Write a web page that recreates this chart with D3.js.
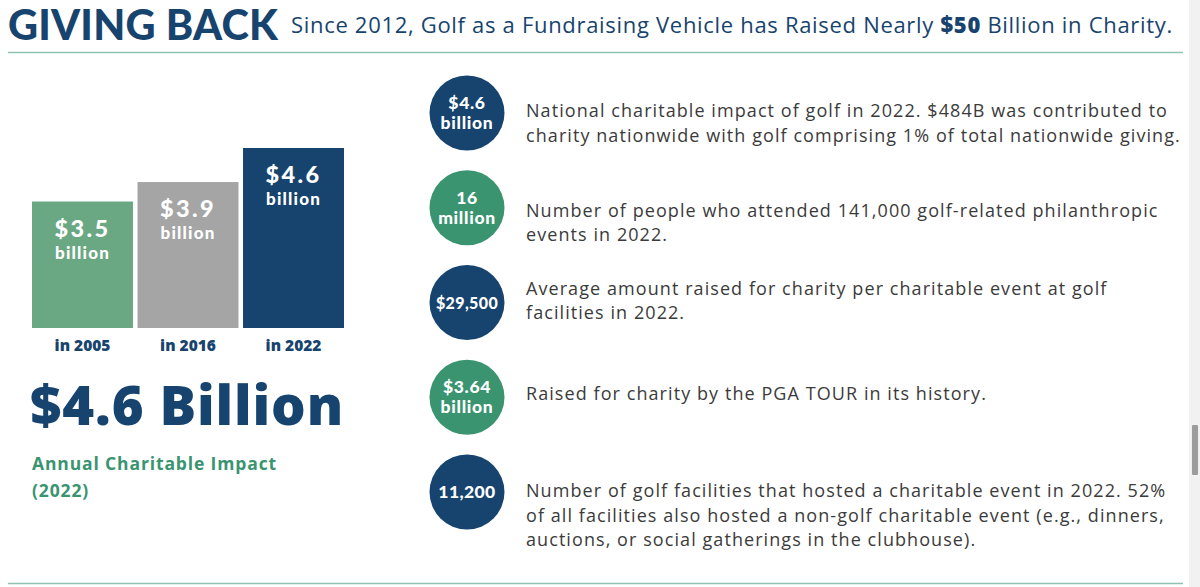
<!DOCTYPE html>
<html>
<head>
<meta charset="utf-8">
<script src="https://cdn.jsdelivr.net/npm/d3@7"></script>
<style>
  html, body { margin: 0; padding: 0; background: #ffffff; overflow: hidden; }
  svg { display: block; }
</style>
</head>
<body>
<svg id="chart" width="1200" height="587"></svg>
<script>
// ---------------- DATA ----------------
const titleText = "GIVING BACK";
const subtitleParts = [
  { text: "Since 2012, Golf as a Fundraising Vehicle has Raised Nearly ", bold: false },
  { text: "$50", bold: true },
  { text: " Billion in Charity.", bold: false }
];
const barCategories = ["in 2005", "in 2016", "in 2022"];
const barValues = [3.5, 3.9, 4.6];
const barValueLabels = ["$3.5", "$3.9", "$4.6"];
const barUnitLabel = "billion";
const headlineValue = "$4.6 Billion";
const headlineCaption = ["Annual Charitable Impact", "(2022)"];
const statLabels = [
  ["$4.6", "billion"],
  ["16", "million"],
  ["$29,500"],
  ["$3.64", "billion"],
  ["11,200"]
];
const statGroups = ["navy", "green", "navy", "green", "navy"];
const statDescriptions = [
  ["National charitable impact of golf in 2022. $484B was contributed to",
   "charity nationwide with golf comprising 1% of total nationwide giving."],
  ["Number of people who attended 141,000 golf-related philanthropic",
   "events in 2022."],
  ["Average amount raised for charity per charitable event at golf",
   "facilities in 2022."],
  ["Raised for charity by the PGA TOUR in its history."],
  ["Number of golf facilities that hosted a charitable event in 2022. 52%",
   "of all facilities also hosted a non-golf charitable event (e.g., dinners,",
   "auctions, or social gatherings in the clubhouse)."]
];

// ---------------- STYLE ----------------
const NAVY = "#17446e";
const GREEN = "#3a9470";
const BAR_COLORS = ["#6aa884", "#a5a5a5", "#17446e"];
const RULE = "#8fc2b0";
const BODY = "#3b3b3b";
const HEAVY = "Lato, 'Open Sans', sans-serif";
const FONT = "'Open Sans', Lato, sans-serif";

// stretch a text element to a target width with letter-spacing
function fitWidth(node, target) {
  const n = node.textContent.length;
  const cur = node.getComputedTextLength();
  const ls = (target - cur) / n;
  d3.select(node).attr("letter-spacing", ls.toFixed(3));
  return ls;
}

const svg = d3.select("#chart");

// Header
const title = svg.append("text")
  .attr("x", 8).attr("y", 40)
  .attr("font-family", HEAVY).attr("font-weight", 900)
  .attr("font-size", 41.5).attr("fill", NAVY)
  .text(titleText);
fitWidth(title.node(), 270);

const sub = svg.append("text")
  .attr("x", 291).attr("y", 33)
  .attr("font-family", FONT).attr("font-size", 22).attr("fill", NAVY);
sub.selectAll("tspan").data(subtitleParts).join("tspan")
  .attr("font-weight", d => d.bold ? 800 : 500)
  .text(d => d.text);
fitWidth(sub.node(), 882);

// Rules
svg.append("line").attr("x1", 8).attr("x2", 1183).attr("y1", 52.5).attr("y2", 52.5)
  .attr("stroke", RULE).attr("stroke-width", 1.5);
svg.append("line").attr("x1", 8).attr("x2", 1183).attr("y1", 583.5).attr("y2", 583.5)
  .attr("stroke", RULE).attr("stroke-width", 1.5);

// Bars
const x = d3.scaleBand().domain(barCategories).range([32, 344]).paddingInner(0.043).paddingOuter(0);
const y = d3.scaleLinear().domain([0.9, 4.6]).range([328, 148]);

const bars = svg.append("g");
bars.selectAll("rect").data(barValues).join("rect")
  .attr("x", (d, i) => x(barCategories[i]))
  .attr("width", x.bandwidth())
  .attr("y", d => y(d))
  .attr("height", d => y.range()[0] - y(d))
  .attr("fill", (d, i) => BAR_COLORS[i]);

bars.selectAll("text.val").data(barValues).join("text")
  .attr("class", "val")
  .attr("x", (d, i) => x(barCategories[i]) + x.bandwidth() / 2)
  .attr("y", d => y(d) + 35)
  .attr("text-anchor", "middle")
  .attr("font-family", HEAVY).attr("font-weight", 900).attr("font-size", 23.5)
  .attr("fill", "#ffffff")
  .text((d, i) => barValueLabels[i])
  .each(function () { fitWidth(this, 56); });

bars.selectAll("text.unit").data(barValues).join("text")
  .attr("class", "unit")
  .attr("x", (d, i) => x(barCategories[i]) + x.bandwidth() / 2)
  .attr("y", d => y(d) + 57)
  .attr("text-anchor", "middle")
  .attr("font-family", HEAVY).attr("font-weight", 900).attr("font-size", 17)
  .attr("fill", "#ffffff")
  .text(barUnitLabel)
  .each(function () { fitWidth(this, 55); });

// x axis labels
const xAxis = svg.append("g").attr("transform", "translate(0,328)")
  .call(d3.axisBottom(x).tickSize(0).tickPadding(0));
xAxis.select(".domain").remove();
xAxis.selectAll("text")
  .attr("dy", 0).attr("y", 23)
  .attr("font-family", FONT).attr("font-weight", 800).attr("font-size", 15.5)
  .attr("fill", NAVY);

// Headline
const head = svg.append("text")
  .attr("x", 30).attr("y", 425)
  .attr("font-family", FONT).attr("font-weight", 800).attr("font-size", 54.5)
  .attr("fill", NAVY)
  .text(headlineValue);
fitWidth(head.node(), 314);

const cap = svg.append("g").selectAll("text").data(headlineCaption).join("text")
  .attr("x", 32).attr("y", (d, i) => 470 + i * 27)
  .attr("font-family", FONT).attr("font-weight", 700).attr("font-size", 17.5)
  .attr("fill", GREEN)
  .text(d => d);
const capLs = fitWidth(cap.nodes()[0], 245);
d3.select(cap.nodes()[1]).attr("letter-spacing", capLs.toFixed(3));

// Stats
const cyScale = d3.scalePoint().domain(d3.range(statLabels.length)).range([113, 492]);
const descOffset = [4, 9, -8, 3, 5];
const statColor = g => g === "navy" ? NAVY : GREEN;

const stats = svg.append("g").selectAll("g").data(statLabels).join("g")
  .attr("transform", (d, i) => `translate(467,${cyScale(i)})`);

stats.append("circle").attr("r", 37.5)
  .attr("fill", (d, i) => statColor(statGroups[i]));

stats.each(function (lines) {
  const single = lines.length === 1;
  d3.select(this).selectAll("text.lbl").data(lines).join("text")
    .attr("class", "lbl")
    .attr("text-anchor", "middle")
    .attr("y", (d, j) => single ? 6 : (j === 0 ? -4 : 16))
    .attr("font-family", HEAVY).attr("font-weight", 900)
    .attr("font-size", single ? (lines[0].length > 6 ? 16 : 17.5) : 17.5)
    .attr("letter-spacing", single ? 0.4 : 0.7)
    .attr("fill", "#ffffff")
    .text(d => d);
});

const desc = svg.append("g").selectAll("g").data(statDescriptions).join("g")
  .attr("transform", (d, i) => `translate(526,${cyScale(i) + descOffset[i]})`);
const descText = desc.selectAll("text").data(d => d).join("text")
  .attr("y", (d, j) => j * 24.5)
  .attr("font-family", FONT).attr("font-size", 18)
  .attr("fill", BODY)
  .text(d => d);
const bodyLs = fitWidth(descText.nodes()[0], 642);
descText.attr("letter-spacing", bodyLs.toFixed(3));

// Scrollbar strip (window chrome in reference)
svg.append("rect").attr("x", 1189).attr("y", 0).attr("width", 11).attr("height", 587).attr("fill", "#f1f1f1");
svg.append("rect").attr("x", 1192).attr("y", 425).attr("width", 6).attr("height", 50).attr("rx", 1).attr("fill", "#9c9c9c");
</script>
</body>
</html>
